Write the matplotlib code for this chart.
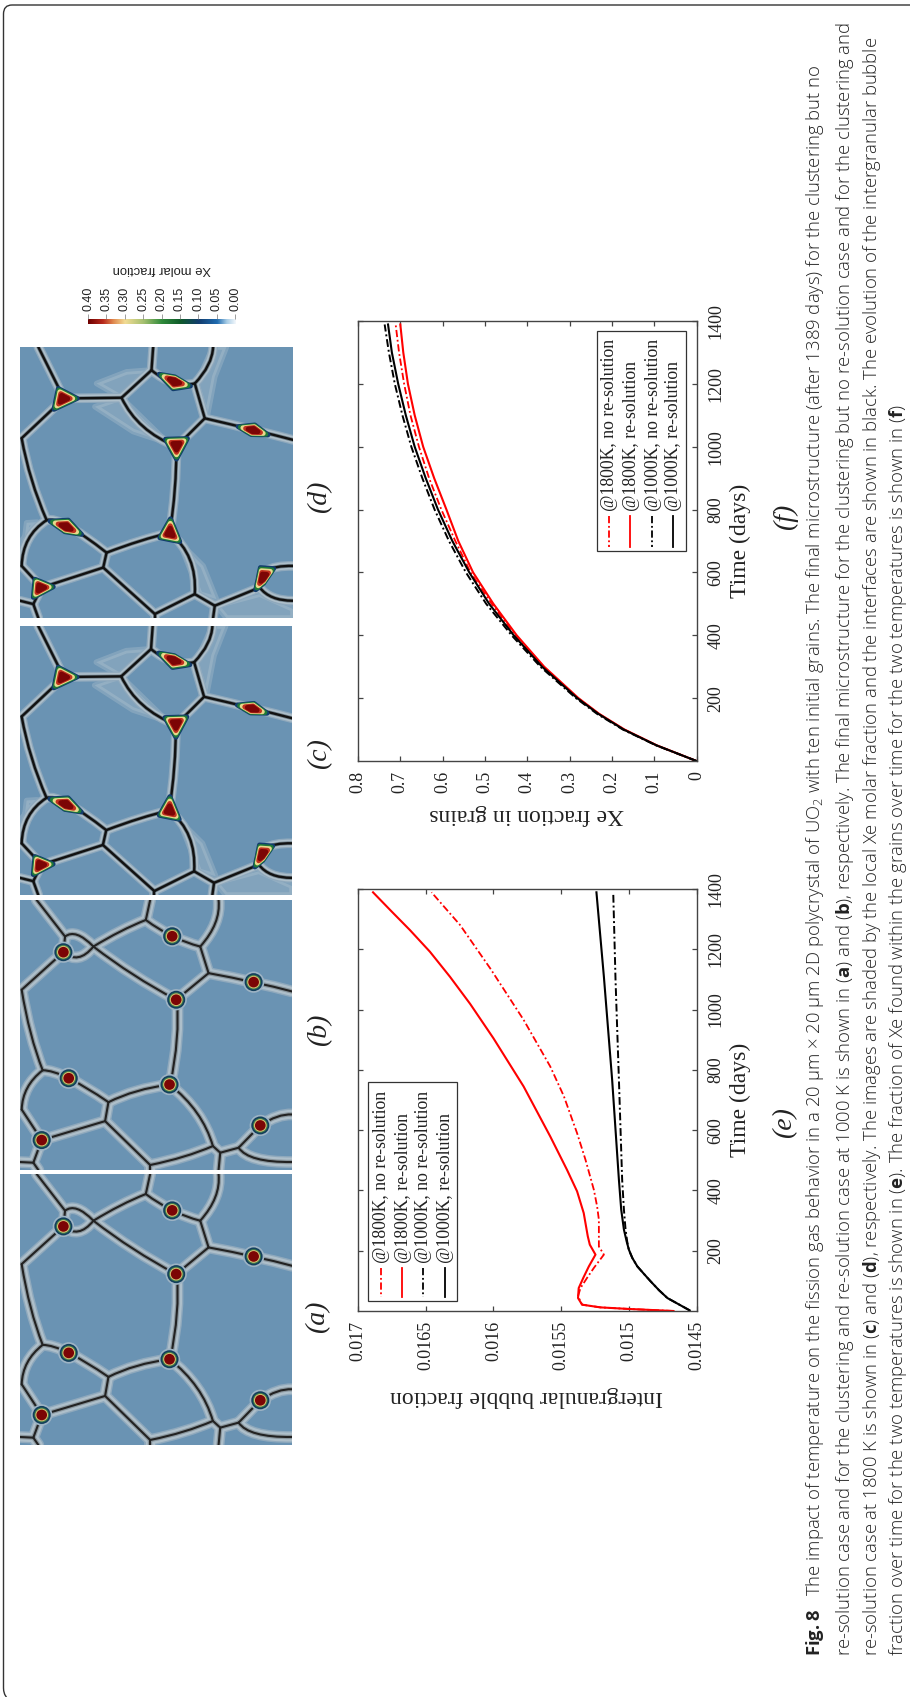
import matplotlib
matplotlib.use('Agg')
import numpy as np
import matplotlib.pyplot as plt
from matplotlib.colors import LinearSegmentedColormap
from matplotlib.patches import PathPatch, Polygon, Circle, Rectangle
from matplotlib.path import Path

W, H = 910, 1697

plt.rcParams['font.family'] = ['Liberation Serif', 'DejaVu Serif']
plt.rcParams['mathtext.fontset'] = 'custom'
plt.rcParams['mathtext.rm'] = 'Open Sans:light'
plt.rcParams['mathtext.bf'] = 'Open Sans:bold'

# bubble fraction curves, panel (e)
red_solid_t = [0, 7, 12, 21, 43, 76, 111, 148, 187, 220, 248, 325, 397, 468, 579, 745, 905, 1019, 1109, 1192, 1264,
               1326, 1389]
red_solid_v = [.01467, .01501, .01521, .015345, .015375, .01537, .015335, .015295, .015246, .015288, .015303,
               .015333, .015382, .015456, .01558, .015777, .0160, .016172, .016321, .016469, .016617, .016753,
               .016889]
red_dash_t = [0, 7, 12, 21, 49, 76, 110, 143, 187, 214, 303, 347, 402, 502, 590, 713, 811, 966, 1137, 1281, 1389]
red_dash_v = [.01467, .01501, .01521, .015345, .015375, .015357, .015308, .015258, .015184, .015221, .015221,
              .015234, .015258, .01532, .015382, .01548, .01558, .015777, .016024, .016247, .016457]
black_solid_t = [2, 43, 69, 98, 123, 148, 176, 203, 231, 270, 336, 435, 767, 1109, 1389]
black_solid_v = [.01455, .014715, .014777, .014838, .014888, .014937, .014974, .014999, .015016, .015036, .015056,
                 .015073, .015123, .015184, .015239]
black_dash_t = [2, 43, 69, 98, 123, 148, 176, 203, 231, 270, 336, 435, 767, 1098, 1389]
black_dash_v = [.01455, .014715, .014777, .014838, .014888, .014937, .014974, .015, .015012, .015024, .015036,
                .015049, .015073, .015098, .015115]

# Xe in grains curves, panel (f)
grain_t = [0, 50, 100, 150, 200, 300, 400, 500, 600, 700, 800, 900, 1000, 1100, 1200, 1300, 1389]
grain_red = [0, .094, .17, .23, .279, .36, .425, .48, .528, .563, .591, .62, .646, .666, .682, .693, .700]
grain_red_dash = [0, .095, .171, .231, .28, .362, .428, .484, .534, .57, .603, .632, .656, .676, .691, .703, .711]
grain_black = [0, .095, .172, .232, .282, .365, .432, .49, .537, .577, .611, .64, .666, .687, .705, .72, .729]
grain_black_dash = [0, .096, .174, .235, .285, .369, .437, .497, .545, .585, .619, .648, .674, .695, .713, .727, .737]

time_ticks = [200, 400, 600, 800, 1000, 1200, 1400]
bubble_ticks = [.017, .0165, .016, .0155, .015, .0145]
bubble_labels = ['0.017', '0.0165', '0.016', '0.0155', '0.015', '0.0145']
grain_ticks = [.8, .7, .6, .5, .4, .3, .2, .1, 0]
grain_labels = ['0.8', '0.7', '0.6', '0.5', '0.4', '0.3', '0.2', '0.1', '0']
legend_names = ['@1800K, no re-solution', '@1800K, re-solution', '@1000K, no re-solution', '@1000K, re-solution']

cbar_ticks = [0.40, 0.35, 0.30, 0.25, 0.20, 0.15, 0.10, 0.05, 0.00]

# grain boundary network of panels (a), (b)
round_edges = [
    [(110, 60), (195, 170)], [(450, 60), (437, 120)], [(655, 60), (645, 130), (600, 200)],
    [(437, 120), (360, 155), (280, 200)], [(437, 120), (516, 169), (600, 200)], [(600, 200), (625, 280)],
    [(625, 280), (760, 307), (875, 335)], [(625, 280), (528, 360)], [(280, 200), (400, 285), (528, 360)],
    [(195, 170), (232, 165), (280, 200)], [(190, 217), (235, 232), (280, 200)], [(195, 170), (190, 217)],
    [(190, 217), (65, 330)], [(65, 330), (92, 460), (128, 572)], [(128, 572), (206, 596), (325, 668)],
    [(530, 360), (530, 480), (510, 615)], [(508, 615), (410, 635), (325, 668)], [(325, 668), (315, 725)],
    [(315, 725), (125, 782)], [(315, 725), (450, 857)], [(128, 572), (82, 625), (65, 690)],
    [(65, 690), (125, 782)], [(125, 782), (100, 850)], [(100, 850), (60, 848)], [(100, 850), (115, 872)],
    [(508, 615), (590, 700), (638, 800)], [(450, 857), (550, 832), (638, 800)], [(638, 800), (660, 820)],
    [(660, 820), (715, 805)], [(660, 820), (655, 872)], [(450, 857), (450, 872)], [(715, 805), (780, 738)],
    [(780, 738), (830, 712), (875, 705)], [(715, 805), (770, 838), (875, 848)],
]
round_bubbles = [(190, 217), (516, 169), (760, 307), (528, 360), (206, 596), (508, 615), (780, 738), (125, 782)]

# grain boundary network of panels (c), (d)
tri_edges = [
    [(115, 350), (192, 505)], [(460, 350), (455, 420)], [(640, 350), (625, 405), (585, 460)],
    [(455, 420), (365, 503)], [(455, 420), (520, 457), (585, 460)], [(585, 460), (615, 565)],
    [(615, 565), (762, 600), (880, 630)], [(615, 565), (530, 650)], [(365, 503), (192, 505)],
    [(365, 503), (430, 590), (530, 650)], [(192, 505), (65, 625)], [(65, 625), (95, 750), (140, 872)],
    [(140, 872), (205, 890), (320, 970)], [(530, 650), (525, 780), (510, 910)],
    [(510, 910), (420, 935), (320, 970)], [(320, 970), (310, 1015)], [(310, 1015), (125, 1075)],
    [(310, 1015), (465, 1155)], [(140, 872), (85, 930), (65, 1010)], [(65, 1010), (125, 1075)],
    [(125, 1075), (100, 1125)], [(100, 1125), (60, 1115)], [(100, 1125), (115, 1167)],
    [(510, 910), (570, 990), (585, 1095)], [(465, 1155), (585, 1095)], [(585, 1095), (645, 1130)],
    [(645, 1130), (640, 1167)], [(645, 1130), (780, 1075)], [(780, 1075), (800, 1025), (880, 1010)],
    [(780, 1075), (820, 1105), (880, 1115)], [(465, 1155), (465, 1167)],
]
tri_bubbles = [
    [(162, 538), (232, 505), (175, 475)],
    [(478, 432), (525, 440), (572, 468), (520, 476)],
    [(715, 590), (765, 585), (805, 615), (755, 614)],
    [(497, 628), (563, 626), (530, 688)],
    [(150, 875), (205, 872), (245, 915), (195, 907)],
    [(512, 868), (480, 925), (540, 937)],
    [(822, 1018), (782, 1015), (768, 1082), (792, 1062)],
    [(105, 1050), (160, 1073), (100, 1105)],
]
tri_haze = [
    [(365, 503), (445, 420), (380, 425), (290, 460)],
    [(365, 503), (285, 530), (400, 605), (505, 640)],
    [(590, 460), (640, 350), (680, 350), (645, 440), (622, 560)],
    [(540, 940), (610, 1010), (650, 1110), (600, 1095)],
    [(65, 1000), (68, 930), (112, 878), (80, 880)],
    [(650, 1130), (780, 1095), (880, 1140), (880, 1167), (680, 1167)],
]

BLUE = '#6a93b3'
cmap = LinearSegmentedColormap.from_list('xe', [
    (0.0, '#f2f7fb'), (0.06, '#a9cde6'), (0.125, '#1f6cb0'), (0.25, '#123c6e'), (0.375, '#0f5a2a'),
    (0.5, '#2f8a3a'), (0.625, '#a5c070'), (0.75, '#f2dc94'), (0.83, '#e0894f'), (0.9, '#b92a1c'), (1.0, '#6e0000')])
DASH = (0, (4, 1.5, 1, 1.5))


def px_axes(x0, y0, x1, y1):
    return fig.add_axes([x0 / W, 1 - y1 / H, (x1 - x0) / W, (y1 - y0) / H])


def edge_path(pts):
    if len(pts) == 2:
        return Path(pts)
    a, m, c = np.array(pts, dtype=float)
    ctrl = 2 * m - (a + c) / 2
    return Path([a, ctrl, c], [Path.MOVETO, Path.CURVE3, Path.CURVE3])


def draw_edges(ax, edges, widths):
    for lw, col in widths:
        for pts in edges:
            ax.add_patch(PathPatch(edge_path(pts), fc='none', ec=col, lw=lw, capstyle='round', joinstyle='round'))


def round_panel(x0, y0, x1, y1):
    ax = px_axes(x0, y0, x1, y1)
    ax.set_xlim(60, 875)
    ax.set_ylim(872, 60)
    ax.axis('off')
    ax.add_patch(Rectangle((60, 60), 815, 812, fc=BLUE, ec='none'))
    draw_edges(ax, round_edges, [(8.5, '#8fa9bd'), (6.5, '#aebfca'), (3.2, '#8a969d'), (1.5, '#222222')])
    for cx, cy in round_bubbles:
        for r, col in [(32, '#9db3c4'), (27, '#123f5c'), (22, '#3f7d4a'), (19, '#d8bf72'), (16, '#7c0505')]:
            ax.add_patch(Circle((cx, cy), r, fc=col, ec='none'))


def tri_panel(x0, y0, x1, y1):
    ax = px_axes(x0, y0, x1, y1)
    ax.set_xlim(60, 880)
    ax.set_ylim(1167, 350)
    ax.axis('off')
    ax.add_patch(Rectangle((60, 350), 820, 817, fc=BLUE, ec='none'))
    for poly in tri_haze:
        ax.add_patch(Polygon(poly, fc='#c2cfd6', ec='#c2cfd6', lw=4, alpha=0.28, joinstyle='round'))
    draw_edges(ax, tri_edges, [(7.0, '#8fa9bd'), (5.2, '#aebfca'), (2.8, '#6f7f88'), (1.7, '#111111')])
    for poly in tri_bubbles:
        p = np.array(poly, dtype=float)
        c = p.mean(axis=0)
        for s, col in [(1.0, '#123c6e'), (0.85, '#1f7a38'), (0.68, '#e8d88c'), (0.5, '#c0301e'), (0.33, '#7c0505')]:
            ax.add_patch(Polygon(c + (p - c) * s, fc=col, ec=col, lw=3.5, joinstyle='round'))


def curve_axes(y0, y1, xlim, ticks, labels):
    ax = px_axes(358, y0, 696.5, y1)
    ax.set_xlim(*xlim)
    ax.set_ylim(0, 1400)
    ax.set_xticks(ticks, labels)
    ax.set_yticks(time_ticks, [str(t) for t in time_ticks])
    ax.yaxis.tick_right()
    ax.tick_params(axis='both', direction='in', length=3.5, width=0.9, color='#444444', labelsize=13,
                   labelcolor='#222222', top=True, bottom=True, left=True, right=True)
    ax.tick_params(axis='x', labelrotation=90, pad=7)
    ax.tick_params(axis='y', labelrotation=90, pad=8)
    for lab in ax.get_yticklabels():
        lab.set_va('center')
    for s in ax.spines.values():
        s.set_color('#444444')
        s.set_linewidth(1.0)
    return ax


fig = plt.figure(figsize=(W / 100, H / 100), dpi=100, facecolor='white')

# page overlay in pixel coordinates
page = fig.add_axes([0, 0, 1, 1], zorder=5)
page.set_xlim(0, W)
page.set_ylim(H, 0)
page.axis('off')
page.patch.set_alpha(0)

border = Path([(910, 5), (12, 5), (3.5, 5), (3.5, 14), (3.5, 1688), (3.5, 1694), (6.5, 1697)],
              [Path.MOVETO, Path.LINETO, Path.CURVE3, Path.CURVE3, Path.LINETO, Path.CURVE3, Path.CURVE3])
page.add_patch(PathPatch(border, fc='none', ec='#333333', lw=1.0))

tri_panel(20, 347, 293, 618)
tri_panel(20, 626, 292, 895)
round_panel(20, 900, 292, 1170)
round_panel(20, 1174, 292, 1445)

# colour bar
cax = px_axes(88, 319, 235, 324)
cax.imshow(np.linspace(0.40, 0, 256).reshape(1, -1), cmap=cmap, aspect='auto', vmin=0, vmax=0.40,
           extent=[0.40, 0, 0, 1])
cax.set_xlim(0.40, 0)
cax.set_yticks([])
cax.xaxis.tick_top()
cax.set_xticks(cbar_ticks, ['%.2f' % v for v in cbar_ticks], family='Liberation Sans', rotation=90, fontsize=9,
               color='#222222')
cax.tick_params(axis='x', length=3.5, width=0.5, color='#777777', pad=2.5)
for s in cax.spines.values():
    s.set_visible(False)
page.text(162, 269, 'Xe molar fraction', family='Liberation Sans', rotation=180, fontsize=9.4, ha='center',
          va='center', color='#222222')

# panel (e)
ax_e = curve_axes(889, 1311, (.017, .0145), bubble_ticks, bubble_labels)
ax_e.plot(red_dash_v, red_dash_t, color='red', lw=1.3, ls=DASH)
ax_e.plot(red_solid_v, red_solid_t, color='red', lw=1.5)
ax_e.plot(black_dash_v, black_dash_t, color='black', lw=1.4, ls=DASH)
ax_e.plot(black_solid_v, black_solid_t, color='black', lw=1.5)

# panel (f)
ax_f = curve_axes(321, 761, (.8, 0), grain_ticks, grain_labels)
ax_f.plot(grain_red_dash, grain_t, color='red', lw=1.3, ls=DASH)
ax_f.plot(grain_red, grain_t, color='red', lw=1.5)
ax_f.plot(grain_black_dash, grain_t, color='black', lw=1.4, ls=DASH)
ax_f.plot(grain_black, grain_t, color='black', lw=1.5)

# legends, drawn by hand since they are turned with the page
styles = [('red', DASH), ('red', '-'), ('black', DASH), ('black', '-')]
for box, xs, hand, text_y in [((368, 1082, 89, 219), (381, 402, 423, 445), (1268, 1297), 1263),
                              ((597, 331, 89, 220), (609, 630, 652, 673), (516, 547), 511)]:
    page.add_patch(Rectangle(box[:2], box[2], box[3], fc='white', ec='#333333', lw=0.9))
    for x, name, (col, ls) in zip(xs, legend_names, styles):
        page.plot([x, x], hand, color=col, ls=ls, lw=1.3)
        page.text(x + 1, text_y, name, rotation=90, ha='center', va='bottom', fontsize=12.8, color='#222222')

# axis titles and panel letters
page.text(740, 1100, 'Time (days)', rotation=90, ha='center', va='center', fontsize=17, color='#222222')
page.text(740, 541, 'Time (days)', rotation=90, ha='center', va='center', fontsize=17, color='#222222')
page.text(527, 1396, 'Intergranular bubble fraction', rotation=180, ha='center', va='center', fontsize=17,
          color='#222222')
page.text(527, 815, 'Xe fraction in grains', rotation=180, ha='center', va='center', fontsize=17, color='#222222')
for lab, x, y in [('(a)', 318, 1317), ('(b)', 320, 1030), ('(c)', 320, 754), ('(d)', 320, 497),
                  ('(e)', 785, 1123), ('(f)', 785, 517)]:
    page.text(x, y, lab, rotation=90, ha='center', va='center', fontsize=20, style='italic', color='#222222')

# caption
caption = [
    (815, r'$\mathbf{Fig. 8}$   The impact of temperature on the fission gas behavior in a 20 µm × 20 µm 2D '
          r'polycrystal of UO$_{2}$ with ten initial grains. The final microstructure (after 1389 days) for the '
          r'clustering but no'),
    (845, r're-solution case and for the clustering and re-solution case at 1000 K is shown in ($\mathbf{a}$) and '
          r'($\mathbf{b}$), respectively. The final microstructure for the clustering but no re-solution case and '
          r'for the clustering and'),
    (872, r're-solution case at 1800 K is shown in ($\mathbf{c}$) and ($\mathbf{d}$), respectively. The images are '
          r'shaded by the local Xe molar fraction and the interfaces are shown in black. The evolution of the '
          r'intergranular bubble'),
    (898, r'fraction over time for the two temperatures is shown in ($\mathbf{e}$). The fraction of Xe found within '
          r'the grains over time for the two temperatures is shown in ($\mathbf{f}$)'),
]
for x, line in caption:
    page.text(x, 1656, line, rotation=90, ha='center', va='bottom', family=['Open Sans', 'DejaVu Sans'],
              weight='light', fontsize=13.3, color='#222222')

fig.savefig('out.png', dpi=100, facecolor='white')
